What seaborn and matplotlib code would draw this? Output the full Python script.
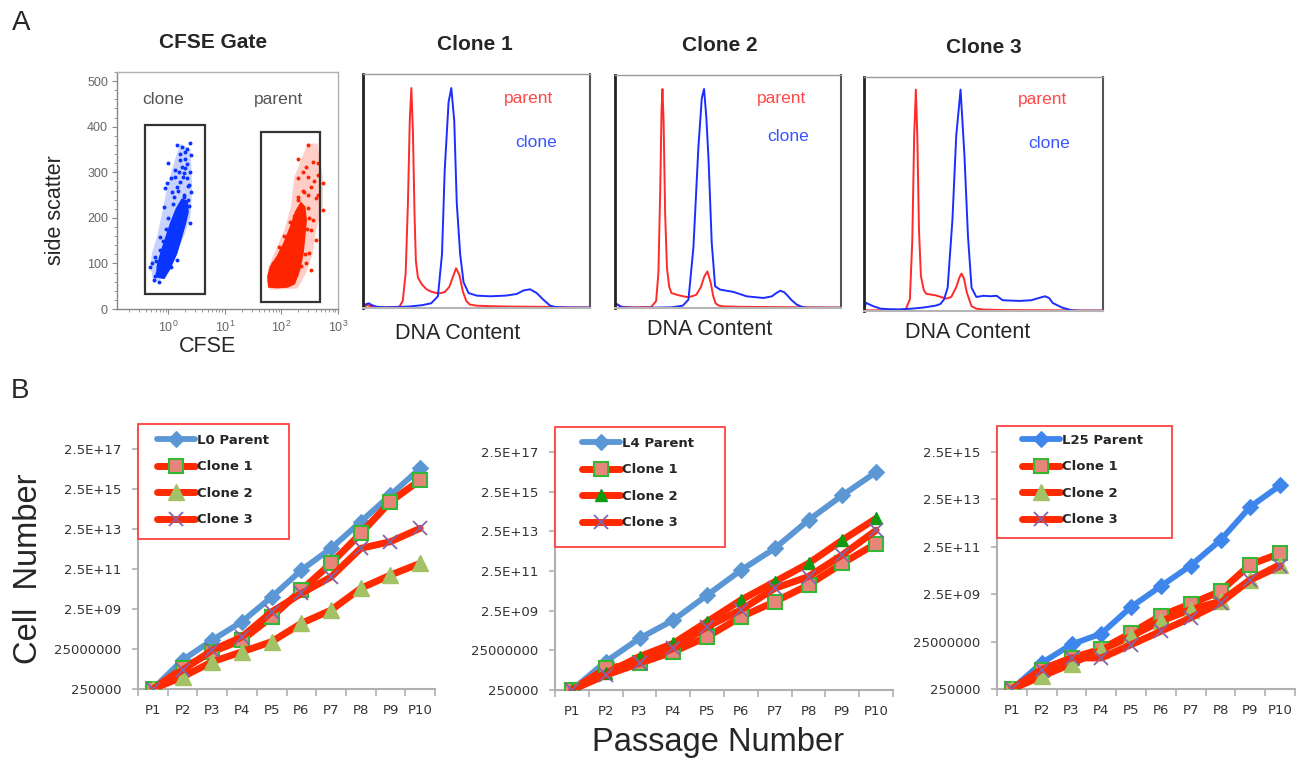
import numpy as np
import matplotlib
matplotlib.use("Agg")
import matplotlib.pyplot as plt
import seaborn as sns
from matplotlib.patches import Rectangle
from matplotlib.ticker import (FixedLocator, FixedFormatter, NullLocator,
                               LogLocator, LogFormatterMathtext, MultipleLocator)

sns.set_style("white")
plt.rcParams["font.family"] = ["Liberation Sans", "DejaVu Sans"]

# ---------------------------------------------------------------- data
# A, CFSE gate: dense cores (outlines), light halos (outlines) and sparse events
clone_core_cfse = [0.64, 0.83, 1.05, 1.38, 1.68, 1.97, 2.2, 2.12, 1.75, 1.40, 1.12, 0.92, 0.74, 0.64]
clone_core_ssc = [71, 68, 89, 122, 158, 188, 213, 236, 240, 220, 190, 158, 122, 93]
clone_halo_cfse = [0.48, 0.55, 0.77, 1.24, 1.87, 2.46, 2.63, 2.46, 1.63, 1.24, 0.95, 0.77, 0.63, 0.51]
clone_halo_ssc = [93, 56, 67, 107, 159, 202, 268, 349, 363, 319, 268, 210, 159, 122]
clone_dots_cfse = [1.43, 1.75, 2.39, 2.0, 2.46, 1.63, 2.15, 1.33, 1.87, 1.09, 1.63, 2.3, 0.95,
                   1.43, 0.83, 1.24, 1.87, 2.46, 2.39, 0.72, 0.59, 0.51, 0.55, 0.48, 1.09,
                   1.43, 0.885, 2.15, 1.75, 1.16, 0.63,
                   0.6, 0.7, 0.65, 0.9, 1.0, 1.2, 1.5, 1.9, 2.2, 2.3, 1.8, 2.0, 1.3, 1.6,
                   2.1, 0.8, 1.4, 2.4, 1.0, 0.57, 2.25, 1.95, 1.55, 0.68]
clone_dots_ssc = [360, 356, 365, 345, 338, 327, 319, 305, 298, 287, 279, 272, 276,
                  268, 224, 246, 250, 257, 188, 159, 115, 100, 64, 93, 93,
                  107, 265, 287, 312, 257, 78,
                  105, 130, 85, 175, 200, 230, 260, 245, 240, 225, 290, 310, 290, 340,
                  350, 150, 170, 300, 320, 72, 270, 330, 300, 60]

parent_core_cfse = [58.1, 60.5, 85.2, 128, 168, 206, 237, 254, 271, 254, 221, 180, 147, 112, 85.2, 64.9]
parent_core_ssc = [71, 49, 47.5, 49, 56, 85.5, 122, 159, 195, 224, 232, 213, 181, 144, 115, 93]
parent_halo_cfse = [56.6, 64.9, 193, 271, 357, 408, 537, 537, 437, 290, 168, 147, 112, 74.3, 56.6]
parent_halo_ssc = [49, 42, 45, 78, 122, 173, 224, 289, 363, 363, 289, 224, 173, 122, 85.5]
parent_dots_cfse = [290, 357, 271, 437, 537, 193, 333, 254, 408, 290, 193, 537, 357, 333,
                    408, 311, 193, 168, 128, 271, 333, 206, 437,
                    60, 70, 90, 110, 140, 165, 200, 240, 300, 310, 280, 230, 260, 220,
                    180, 300, 380, 450, 240, 200]
parent_dots_ssc = [360, 323, 312, 294, 276, 287, 268, 257, 243, 221, 246, 217, 195, 173,
                   151, 122, 166, 137, 122, 100, 85.5, 107, 320,
                   62, 100, 135, 160, 190, 205, 240, 260, 250, 200, 175, 150, 120, 95,
                   75, 290, 280, 250, 300, 330]

# gates: (cfse_low, cfse_high, ssc_low, ssc_high)
clone_gate = (0.39, 4.36, 33, 403)
parent_gate = (43, 481, 16, 389)

# A, DNA content histograms (channel 0-100, relative counts 0-100)
c1_par_x = [0, 2, 4, 10, 16, 17.5, 18.8, 19.8, 20.6, 21.3, 22.0, 22.7, 23.3, 24.2, 26, 28, 30, 32,
            34, 36, 38, 39.5, 41, 42.5, 44, 45.5, 47, 50, 55, 65, 80, 90, 100]
c1_par_y = [0.5, 1.2, 0.6, 0.3, 0.5, 3, 15, 45, 80, 94, 75, 40, 20, 13, 10, 8, 7, 6.5,
            6.3, 6.8, 9, 13, 17, 14, 7, 3, 1.5, 1, 0.8, 0.6, 0.5, 0.3, 0.2]
c1_cln_x = [0, 1, 2.5, 4, 6, 10, 20, 26, 30, 33, 34.8, 36, 37.7, 38.9, 40.2, 41.3, 42.8, 44.3,
            46.5, 50, 56, 63, 67.7, 70.7, 73.6, 76.5, 79.5, 82.4, 85, 90, 100]
c1_cln_y = [0.5, 1.5, 2.0, 1.2, 0.5, 0.3, 0.6, 1.2, 2.0, 5, 23, 59, 88, 94, 80, 45, 23, 11,
            6.4, 5.3, 5.0, 5.3, 6, 7.5, 8, 6.4, 3.5, 1, 0.4, 0.2, 0.2]

c2_par_x = [0, 1, 3, 8, 16, 18.2, 19.2, 20, 20.6, 21, 21.5, 22.2, 23, 24, 25, 28, 31.8, 34, 36,
            38, 39.5, 40.9, 42.3, 43.5, 44.5, 46, 48, 55, 70, 85, 100]
c2_par_y = [1.0, 1.4, 0.5, 0.3, 0.4, 3, 15, 50, 85, 94, 80, 40, 17, 9, 6.4, 5.5, 4.7, 5, 5.7,
            9, 13.5, 15.7, 11, 5, 2, 1, 0.7, 0.5, 0.4, 0.3, 0.2]
c2_cln_x = [0, 1, 2.5, 5, 10, 20, 25, 30, 32.5, 34.7, 36.9, 38.4, 39.4, 40.4, 41.4, 42.8, 44.3,
            46.5, 52.4, 58.3, 65.7, 69.4, 71.5, 73.1, 74.8, 76, 78, 80.5, 83, 85, 100]
c2_cln_y = [1.4, 1.6, 0.6, 0.2, 0.1, 0.2, 0.3, 1.0, 3.6, 26, 69, 90, 94, 82, 63.6, 28, 9.3,
            7.9, 6.9, 5, 4.3, 5, 6.5, 7.4, 6.8, 5.7, 3.5, 1.4, 0.4, 0.1, 0.1]

c3_par_x = [0, 5, 15, 17.5, 19.2, 20.2, 21, 21.7, 22.3, 23, 23.8, 25, 26, 28, 30, 32, 34.5,
            36.5, 38.5, 40, 40.8, 41.8, 43, 45, 47, 50, 60, 80, 100]
c3_par_y = [0.3, 0.3, 0.4, 0.8, 5, 30, 75, 94.6, 75, 35, 15, 9, 7.4, 7, 6.7, 6, 5.3,
            6, 10, 14.5, 16, 14, 8, 2, 1, 0.6, 0.4, 0.3, 0.2]
c3_cln_x = [0, 0.8, 1.8, 4, 7, 10, 15, 20, 25, 30, 32, 33.5, 35, 37, 38.6, 40.4, 42, 43.5, 45,
            47, 50, 53, 55.5, 58, 65, 70, 73, 75.8, 77.5, 79, 83, 87, 90, 100]
c3_cln_y = [0.5, 3.5, 3, 2, 1, 0.8, 0.7, 1, 1.5, 2.3, 3, 5, 10, 39, 75, 94.6, 67, 32, 10,
            6, 6.5, 6.3, 6.5, 4.6, 4.3, 4.6, 5.5, 6.3, 5.5, 3.4, 1.4, 0.3, 0.1, 0.1]

# B, cumulative cell number per passage
passages = ["P1", "P2", "P3", "P4", "P5", "P6", "P7", "P8", "P9", "P10"]

l0_parent = [2.5e5, 7.0e6, 7.0e7, 5.8e8, 1.0e10, 2.2e11, 2.7e12, 5.8e13, 1.25e15, 2.7e16]
l0_clone1 = [2.5e5, 2.7e6, 1.8e7, 7.0e7, 1.0e9, 2.2e10, 4.8e11, 1.5e13, 5.8e14, 7.0e15]
l0_clone2 = [2.5e5, 1.0e6, 5.8e6, 1.8e7, 5.8e7, 4.8e8, 2.2e9, 2.7e10, 1.25e11, 4.8e11]
l0_clone3 = [2.5e5, 2.2e6, 2.2e7, 1.0e8, 1.8e9, 1.5e10, 1.0e11, 2.7e12, 5.8e12, 2.7e13]

l4_parent = [2.5e5, 6.7e6, 1.0e8, 8.3e8, 1.5e10, 2.7e11, 3.4e12, 9.1e13, 1.6e15, 2.4e16]
l4_clone1 = [2.5e5, 3.1e6, 5.5e6, 2.1e7, 1.2e8, 1.2e9, 7.0e9, 4.9e10, 6.0e11, 6.0e12]
l4_clone2 = [2.5e5, 1.7e6, 1.2e7, 5.6e7, 6.9e8, 8.5e9, 7.1e10, 6.0e11, 8.9e12, 1.1e14]
l4_clone3 = [2.5e5, 1.4e6, 5.5e6, 3.1e7, 3.9e8, 2.7e9, 3.3e10, 1.3e11, 1.6e12, 2.8e13]

l25_parent = [2.5e5, 3.1e6, 1.9e7, 5.4e7, 7.2e8, 5.4e9, 4.0e10, 4.7e11, 1.2e13, 9.5e13]
l25_clone1 = [2.5e5, 1.65e6, 5.1e6, 1.2e7, 5.7e7, 3.1e8, 9.7e8, 3.3e9, 4.4e10, 1.3e11]
l25_clone2 = [2.5e5, 8.5e5, 2.9e6, 1.1e7, 4.2e7, 1.8e8, 5.6e8, 1.25e9, 1.0e10, 4.4e10]
l25_clone3 = [2.5e5, 1.65e6, 5.1e6, 5.1e6, 1.85e7, 6.8e7, 2.5e8, 1.07e9, 1.0e10, 3.8e10]

ticks_to_e17 = [2.5e5, 2.5e7, 2.5e9, 2.5e11, 2.5e13, 2.5e15, 2.5e17]
labels_to_e17 = ["250000", "25000000", "2.5E+09", "2.5E+11", "2.5E+13", "2.5E+15", "2.5E+17"]
ticks_to_e15 = [2.5e5, 2.5e7, 2.5e9, 2.5e11, 2.5e13, 2.5e15]
labels_to_e15 = ["250000", "25000000", "2.5E+09", "2.5E+11", "2.5E+13", "2.5E+15"]

# ---------------------------------------------------------------- styling
W, H = 1302, 760
fig = plt.figure(figsize=(W / 100, H / 100), dpi=100)


def px_axes(x0, y0, x1, y1):
    return fig.add_axes([x0 / W, 1 - y1 / H, (x1 - x0) / W, (y1 - y0) / H])


DOT_BLUE = "#0a34ff"
DOT_RED = "#ff2400"
HIST_RED = "#ff2a2a"
HIST_BLUE = "#1e2dff"
LINE_RED = "#ff2a00"
SQUARE_FACE = "#e8857b"
SQUARE_EDGE = "#33b833"
TRI_LIGHT = "#a3c265"
TRI_DARK = "#0f9a12"
X_PURPLE = "#8563ab"
BOX_RED = "#ff4040"
TICK_GRAY = "#333333"

fig.text(21 / W, 1 - 23 / H, "A", fontsize=20, ha="center", va="center")
fig.text(20 / W, 1 - 391 / H, "B", fontsize=20, ha="center", va="center")

# ---------------------------------------------------------------- A: CFSE gate
ax = px_axes(117, 72, 338, 309)
ax.set_xscale("log")
ax.fill(clone_halo_cfse, clone_halo_ssc, color=DOT_BLUE, alpha=0.22, lw=0)
ax.fill(parent_halo_cfse, parent_halo_ssc, color=DOT_RED, alpha=0.22, lw=0)
ax.fill(clone_core_cfse, clone_core_ssc, color=DOT_BLUE, lw=1.5, ec=DOT_BLUE)
ax.fill(parent_core_cfse, parent_core_ssc, color=DOT_RED, lw=1.5, ec=DOT_RED)
sns.scatterplot(x=clone_dots_cfse, y=clone_dots_ssc, ax=ax, color=DOT_BLUE, s=8, linewidth=0)
sns.scatterplot(x=parent_dots_cfse, y=parent_dots_ssc, ax=ax, color=DOT_RED, s=8, linewidth=0)
for (xl, xh, yl, yh) in (clone_gate, parent_gate):
    ax.add_patch(Rectangle((xl, yl), xh - xl, yh - yl, fill=False, ec="#333333", lw=1.6, zorder=3))
ax.set_xlim(10 ** -0.91, 1000)
ax.set_ylim(0, 520)
ax.xaxis.set_major_locator(LogLocator(base=10, numticks=10))
ax.xaxis.set_major_formatter(LogFormatterMathtext())
ax.yaxis.set_major_locator(FixedLocator([0, 100, 200, 300, 400, 500]))
ax.yaxis.set_minor_locator(MultipleLocator(20))
ax.tick_params(axis="both", which="both", bottom=True, left=True, direction="out",
               color="#888888", labelsize=9, labelcolor="#666666")
ax.tick_params(axis="both", which="major", length=3.5, width=0.8)
ax.tick_params(axis="both", which="minor", length=2, width=0.6)
ax.tick_params(axis="x", which="major", pad=4)
ax.tick_params(axis="y", pad=3)
for side in ("left", "bottom"):
    ax.spines[side].set_color("#888888")
    ax.spines[side].set_linewidth(1.0)
for side in ("top", "right"):
    ax.spines[side].set_color("#b0b0b0")
    ax.spines[side].set_linewidth(1.0)
ax.set_title("CFSE Gate", fontsize=15, fontweight="bold", pad=17, x=0.434)
ax.set_xlabel("CFSE", fontsize=15.5, va="center")
ax.xaxis.set_label_coords(0.41, -0.16)
ax.set_ylabel("side scatter", fontsize=15.5, va="center")
ax.yaxis.set_label_coords(-0.28, 0.418)
ax.text(0.208, 0.882, "clone", transform=ax.transAxes, ha="center", va="center",
        fontsize=12.5, color="#555555")
ax.text(0.729, 0.882, "parent", transform=ax.transAxes, ha="center", va="center",
        fontsize=12.5, color="#555555")

# ---------------------------------------------------------------- A: DNA content
hist_specs = [
    ("Clone 1", (363, 74, 590, 308), c1_par_x, c1_par_y, c1_cln_x, c1_cln_y,
     0.493, (0.731, 0.897), (0.762, 0.709), (0.419, -0.107)),
    ("Clone 2", (615, 75, 841, 308), c2_par_x, c2_par_y, c2_cln_x, c2_cln_y,
     0.465, (0.739, 0.901), (0.765, 0.738), (0.42, -0.094)),
    ("Clone 3", (864, 77, 1103, 311), c3_par_x, c3_par_y, c3_cln_x, c3_cln_y,
     0.5, (0.749, 0.902), (0.774, 0.714), (0.435, -0.094)),
]
for title, box, px_, py_, cx_, cy_, tx, ppos, cpos, lpos in hist_specs:
    ax = px_axes(*box)
    sns.lineplot(x=px_, y=py_, ax=ax, color=HIST_RED, lw=1.4, errorbar=None)
    sns.lineplot(x=cx_, y=cy_, ax=ax, color=HIST_BLUE, lw=1.4, errorbar=None)
    ax.set_xlim(0, 100)
    ax.set_ylim(0, 100)
    ax.set_xticks([])
    ax.set_yticks([])
    ax.spines["left"].set_color("#222222")
    ax.spines["left"].set_linewidth(2.0)
    ax.spines["right"].set_color("#555555")
    ax.spines["right"].set_linewidth(1.5)
    ax.spines["top"].set_color("#9a9a9a")
    ax.spines["top"].set_linewidth(1.0)
    ax.spines["bottom"].set_color("#b5b5b5")
    ax.spines["bottom"].set_linewidth(1.5)
    ax.set_title(title, fontsize=15, fontweight="bold", pad=17, x=tx)
    ax.set_xlabel("DNA Content", fontsize=15.5, va="center")
    ax.xaxis.set_label_coords(*lpos)
    ax.set_ylabel("")
    ax.text(*ppos, "parent", transform=ax.transAxes, ha="center", va="center",
            fontsize=12.5, color="#ff4a4a")
    ax.text(*cpos, "clone", transform=ax.transAxes, ha="center", va="center",
            fontsize=12.5, color="#3a55ff")

# ---------------------------------------------------------------- B: growth curves
growth_specs = [
    ("L0 Parent", (138, 429, 435, 689), l0_parent, l0_clone1, l0_clone2, l0_clone3,
     "#5b97d5", TRI_LIGHT, 11, 2.5e18, ticks_to_e17, labels_to_e17,
     (138, 424, 289, 539), (157, 434)),
    ("L4 Parent", (555, 432, 893, 690), l4_parent, l4_clone1, l4_clone2, l4_clone3,
     "#5b97d5", TRI_DARK, 9, 2.5e18, ticks_to_e17, labels_to_e17,
     (555, 427, 725, 547), (582, 437)),
    ("L25 Parent", (997, 428, 1295, 689), l25_parent, l25_clone1, l25_clone2, l25_clone3,
     "#3f86ec", TRI_LIGHT, 11, 2.5e16, ticks_to_e15, labels_to_e15,
     (997, 426, 1172, 538), (1022, 434)),
]
positions = list(range(len(passages)))
axes_b = []
for (plabel, box, par, cl1, cl2, cl3, pcol, tri_col, tri_size, ytop, yt, ytl,
     legbox, legpos) in growth_specs:
    ax = px_axes(*box)
    axes_b.append(ax)
    ax.set_yscale("log")
    sns.lineplot(x=positions, y=par, ax=ax, color=pcol, lw=4.2, marker="D", markersize=8,
                 mfc=pcol, mec=pcol, mew=0.8, label=plabel, errorbar=None, zorder=3)
    sns.lineplot(x=positions, y=cl1, ax=ax, color=LINE_RED, lw=5, marker="s", markersize=10,
                 mfc=SQUARE_FACE, mec=SQUARE_EDGE, mew=1.5, label="Clone 1", errorbar=None, zorder=4)
    sns.lineplot(x=positions, y=cl2, ax=ax, color=LINE_RED, lw=5, marker="^", markersize=tri_size,
                 mfc=tri_col, mec=tri_col, mew=1.0, label="Clone 2", errorbar=None, zorder=4)
    sns.lineplot(x=positions, y=cl3, ax=ax, color=LINE_RED, lw=5, marker="x", markersize=10,
                 mfc=X_PURPLE, mec=X_PURPLE, mew=1.3, label="Clone 3", errorbar=None, zorder=4)
    ax.set_xlim(-0.5, len(passages) - 0.5)
    ax.set_ylim(2.5e5, ytop)
    ax.yaxis.set_major_locator(FixedLocator(yt))
    ax.yaxis.set_major_formatter(FixedFormatter(ytl))
    ax.yaxis.set_minor_locator(NullLocator())
    ax.set_xticks(positions)
    ax.set_xticklabels(passages)
    ax.set_xticks([p - 0.5 for p in positions] + [positions[-1] + 0.5], minor=True)
    ax.tick_params(axis="x", which="major", length=0, pad=11, labelsize=9.5, labelcolor=TICK_GRAY)
    ax.tick_params(axis="x", which="minor", bottom=True, direction="out", length=5,
                   width=1.2, color="#b0b0b0")
    ax.tick_params(axis="y", which="major", left=True, direction="out", length=4, width=1.2,
                   color="#b0b0b0", pad=8, labelsize=9.5, labelcolor=TICK_GRAY)
    for lab in ax.get_xticklabels() + ax.get_yticklabels():
        lab.set_fontfamily("DejaVu Sans")
    for side in ("top", "right"):
        ax.spines[side].set_visible(False)
    for side in ("left", "bottom"):
        ax.spines[side].set_color("#b0b0b0")
        ax.spines[side].set_linewidth(1.5)
    ax.set_xlabel("")
    ax.set_ylabel("")

    # legend: white box with red outline, entries on top
    bx0, by0, bx1, by1 = legbox
    ax.add_patch(Rectangle((bx0 / W, 1 - by1 / H), (bx1 - bx0) / W, (by1 - by0) / H,
                           transform=fig.transFigure, fc="white", ec=BOX_RED, lw=1.3,
                           clip_on=False, zorder=4.6))
    handles, labels = ax.get_legend_handles_labels()
    ax.legend(handles, labels, loc="upper left",
              bbox_to_anchor=(legpos[0] / W, 1 - legpos[1] / H), bbox_transform=fig.transFigure,
              frameon=False, borderpad=0, borderaxespad=0, handlelength=2.9,
              handletextpad=0.15, labelspacing=1.02, numpoints=1,
              prop=dict(family="DejaVu Sans", weight="bold", size=9.5))

axes_b[0].set_ylabel("Cell  Number", fontsize=23.5, va="center")
axes_b[0].yaxis.set_label_coords(-0.37, 0.463)
axes_b[1].set_xlabel("Passage Number", fontsize=23.5, va="center")
axes_b[1].xaxis.set_label_coords(0.482, -0.205)

fig.savefig("out.png", dpi=100)
